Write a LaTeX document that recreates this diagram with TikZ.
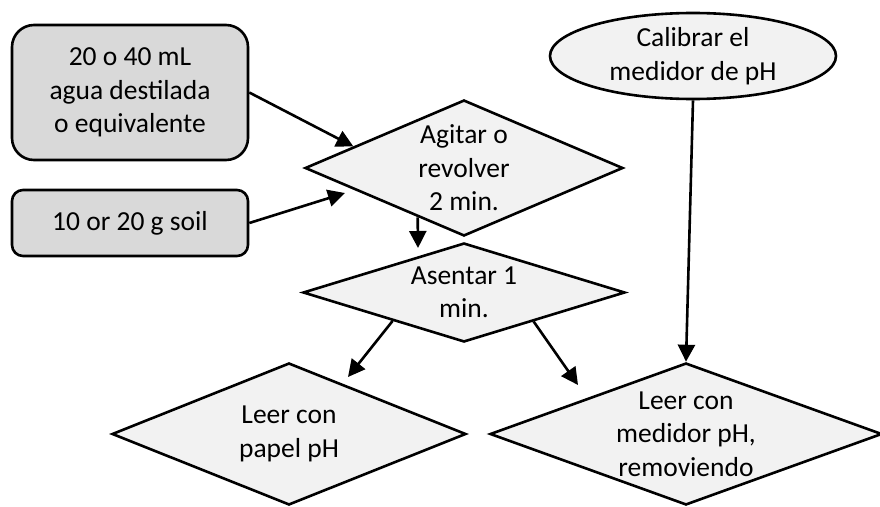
\documentclass[tikz,border=0pt]{standalone}
\usepackage{fontspec}
\setmainfont{Carlito}
\usetikzlibrary{shapes.geometric,arrows.meta,calc}
\definecolor{boxgray}{HTML}{D9D9D9}
\definecolor{shapegray}{HTML}{F2F2F2}
\begin{document}
\begin{tikzpicture}[x=1pt,y=-1pt,
  base/.style={draw=black, line width=2.6pt, inner sep=0pt, align=center,
    font=\fontsize{27.5}{33.5}\selectfont, text=black},
  inbox/.style={base, rectangle, fill=boxgray, minimum width=236pt},
  decision/.style={base, diamond, fill=shapegray},
  startshape/.style={base, ellipse, fill=shapegray},
  flow/.style={line width=2.6pt, -{Triangle[length=17pt,width=17pt]}}
]
\useasboundingbox (0,0) rectangle (880,506);

% inputs
\node[inbox, minimum height=135pt, rounded corners=22pt] (water) at (130,92.5)
  {20 o 40 mL\\agua destilada\\o equivalente};
\node[inbox, minimum height=66pt, rounded corners=11pt] (soil) at (130,223)
  {10 or 20 g soil};

% calibration
\node[startshape, minimum width=286pt, minimum height=86pt] (calib) at (693,56)
  {Calibrar el\\medidor de pH};

% process steps
\node[decision, aspect=2.34, minimum width=318pt, minimum height=136pt] (stir) at (464,168)
  {Agitar o\\revolver\\2 min.};
\node[decision, aspect=3.25, minimum width=322pt, minimum height=99pt] (settle) at (464,292.5)
  {Asentar 1\\min.};
\node[decision, aspect=2.49, minimum width=354pt, minimum height=142pt] (paper) at (289,434)
  {Leer con\\papel pH};
\node[decision, aspect=2.76, minimum width=392pt, minimum height=142pt] (meter) at (686,434)
  {Leer con\\medidor pH,\\removiendo};

% free arrow ends
\coordinate (soilIn) at (345,193);
\coordinate (settleIn) at (418,248);
\coordinate (paperIn) at (348,377);
\coordinate (meterIn) at (578,385);

% connectors
\draw[flow] (water.east) -- (stir.169);
\draw[flow] (soil.east) -- (soilIn);
\draw[flow] ($(stir.west)!0.711!(stir.south)$) -- (settleIn);
\draw[flow] ($(settle.west)!0.56!(settle.south)$) -- (paperIn);
\draw[flow] ($(settle.east)!0.571!(settle.south)$) -- (meterIn);
\draw[flow] (calib.south) -- (meter.north);
\end{tikzpicture}
\end{document}
